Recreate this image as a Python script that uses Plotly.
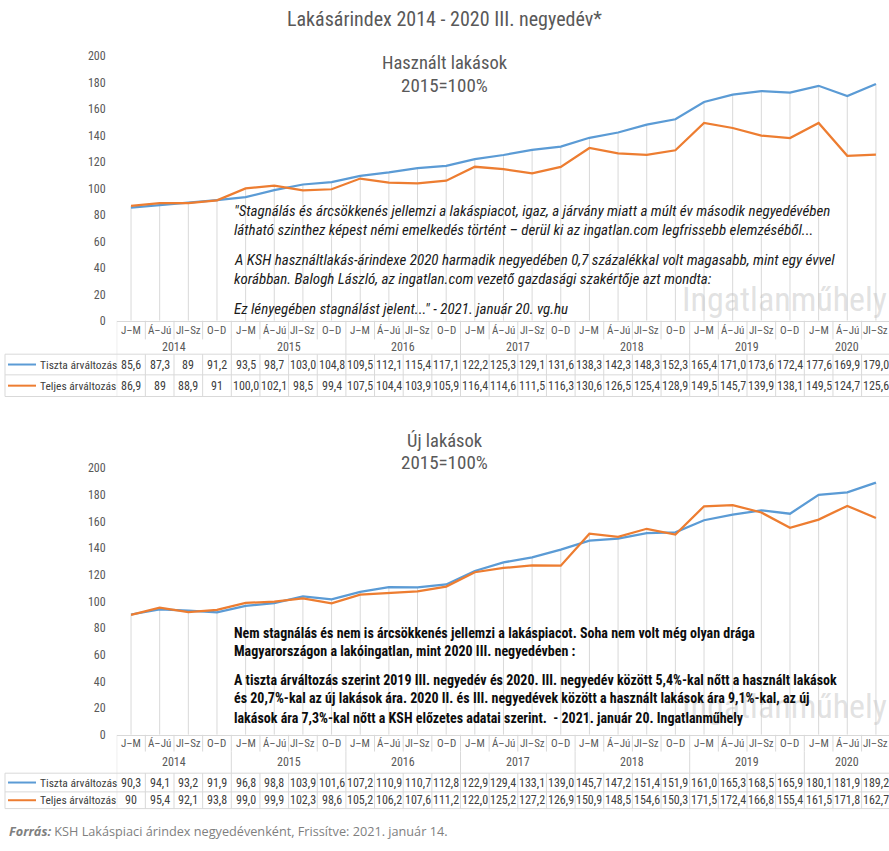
import plotly.graph_objects as go

W, H = 889, 851

# ---------------- data ----------------
quarters = ["J–M", "Á–Jú", "Jl–Sz", "O–D"] * 6 + ["J–M", "Á–Jú", "Jl–Sz"]
year_labels = ["2014", "2015", "2016", "2017", "2018", "2019", "2020"]
quarters_per_year = [4, 4, 4, 4, 4, 4, 3]

used_tiszta = [85.6, 87.3, 89, 91.2, 93.5, 98.7, 103.0, 104.8, 109.5, 112.1, 115.4, 117.1,
               122.2, 125.3, 129.1, 131.6, 138.3, 142.3, 148.3, 152.3, 165.4, 171.0, 173.6,
               172.4, 177.6, 169.9, 179.0]
used_teljes = [86.9, 89, 88.9, 91, 100.0, 102.1, 98.5, 99.4, 107.5, 104.4, 103.9, 105.9,
               116.4, 114.6, 111.5, 116.3, 130.6, 126.5, 125.4, 128.9, 149.5, 145.7, 139.9,
               138.1, 149.5, 124.7, 125.6]
new_tiszta = [90.3, 94.1, 93.2, 91.9, 96.8, 98.8, 103.9, 101.6, 107.2, 110.9, 110.7, 112.8,
              122.9, 129.4, 133.1, 139.0, 145.7, 147.2, 151.4, 151.9, 161.0, 165.3, 168.5,
              165.9, 180.1, 181.9, 189.2]
new_teljes = [90, 95.4, 92.1, 93.8, 99.0, 99.9, 102.3, 98.6, 105.2, 106.2, 107.6, 111.2,
              122.0, 125.2, 127.2, 126.9, 150.9, 148.5, 154.6, 150.3, 171.5, 172.4, 166.8,
              155.4, 161.5, 171.8, 162.7]
series_names = ["Tiszta árváltozás", "Teljes árváltozás"]
y_ticks = list(range(0, 201, 20))

# ---------------- style ----------------
BLUE = "#5B9BD5"
ORANGE = "#ED7D31"
GRID = "#D9D9D9"
GRAY = "#595959"
FONT = "Liberation Sans Narrow, Arial Narrow, Roboto Condensed, Lato, sans-serif"


def px(x):
    return x / W


def py(y):
    return 1 - y / H


n = len(quarters)
year_of = []
for yl, cnt in zip(year_labels, quarters_per_year):
    year_of += [yl] * cnt

X_LEFT = 116.7      # pixel of left edge of category area
STEP = 28.65        # pixel width of one category
x_range_end = (W - X_LEFT) / STEP - 0.5

fig = go.Figure()
shapes = []
annotations = []

charts = [
    dict(xa="x", ya="y", top=50, zero=319, q=(319, 338), yr=(338, 353),
         rows=[(353, 374), (374, 396)], data=[used_tiszta, used_teljes],
         title=("Használt lakások", 57, "2015=100%", 80)),
    dict(xa="x2", ya="y2", top=469, zero=740, q=(740, 757), yr=(757, 779),
         rows=[(779, 798), (798, 815)], data=[new_tiszta, new_teljes],
         title=("Új lakások", 441, "2015=100%", 463)),
]

for c in charts:
    xs = list(range(n))
    # drop lines from the higher series to the axis
    dx, dy = [], []
    for i in xs:
        dx += [i, i, None]
        dy += [0, max(c["data"][0][i], c["data"][1][i]), None]
    fig.add_trace(go.Scatter(x=dx, y=dy, mode="lines", xaxis=c["xa"], yaxis=c["ya"],
                             line=dict(color=GRID, width=1), hoverinfo="skip", showlegend=False))
    for vals, col, name in zip(c["data"], [BLUE, ORANGE], series_names):
        fig.add_trace(go.Scatter(x=xs, y=vals, mode="lines", name=name, xaxis=c["xa"], yaxis=c["ya"],
                                 line=dict(color=col, width=2.25), showlegend=False))

    xr = c["xa"]
    # category axis labels: quarters
    for i, q in enumerate(quarters):
        annotations.append(dict(x=i, y=py((c["q"][0] + c["q"][1]) / 2), xref=xr, yref="paper",
                                text=q, showarrow=False, yanchor="middle",
                                font=dict(family=FONT, size=11, color=GRAY)))
    # quarter separators
    for i in range(n + 1):
        shapes.append(dict(type="line", xref=xr, yref="paper", x0=i - 0.5, x1=i - 0.5,
                           y0=py(c["q"][0]), y1=py(c["q"][1]), line=dict(color=GRID, width=1)))
    # years
    start = 0
    for yl, cnt in zip(year_labels, quarters_per_year):
        annotations.append(dict(x=start + (cnt - 1) / 2, y=py((c["yr"][0] + c["yr"][1]) / 2),
                                xref=xr, yref="paper", text=yl, showarrow=False, yanchor="middle",
                                font=dict(family=FONT, size=12, color=GRAY)))
        shapes.append(dict(type="line", xref=xr, yref="paper", x0=start - 0.5, x1=start - 0.5,
                           y0=py(c["yr"][0]), y1=py(c["yr"][1]), line=dict(color=GRID, width=1)))
        start += cnt
    shapes.append(dict(type="line", xref=xr, yref="paper", x0=start - 0.5, x1=start - 0.5,
                       y0=py(c["yr"][0]), y1=py(c["yr"][1]), line=dict(color=GRID, width=1)))

    # data table
    t_top, t_bot = c["rows"][0][0], c["rows"][1][1]
    for yy in [t_top, c["rows"][0][1], t_bot]:
        shapes.append(dict(type="line", xref="paper", yref="paper", x0=px(5), x1=px(X_LEFT + n * STEP),
                           y0=py(yy), y1=py(yy), line=dict(color=GRID, width=1)))
    shapes.append(dict(type="line", xref="paper", yref="paper", x0=px(5), x1=px(5),
                       y0=py(t_top), y1=py(t_bot), line=dict(color=GRID, width=1)))
    for i in range(n + 1):
        shapes.append(dict(type="line", xref=xr, yref="paper", x0=i - 0.5, x1=i - 0.5,
                           y0=py(t_top), y1=py(t_bot), line=dict(color=GRID, width=1)))
    for (r0, r1), vals, col, name in zip(c["rows"], c["data"], [BLUE, ORANGE], series_names):
        ym = py((r0 + r1) / 2)
        shapes.append(dict(type="line", xref="paper", yref="paper", x0=px(8), x1=px(36),
                           y0=ym, y1=ym, line=dict(color=col, width=2)))
        annotations.append(dict(x=px(38), y=ym, xref="paper", yref="paper", text=name,
                                xanchor="left", yanchor="middle", showarrow=False,
                                font=dict(family=FONT, size=11.5, color="#404040")))
        for i, v in enumerate(vals):
            s = (f"{v:g}" if year_of[i] == "2014" else f"{v:.1f}").replace(".", ",")
            annotations.append(dict(x=i, y=ym, xref=xr, yref="paper", text=s, showarrow=False,
                                    yanchor="middle",
                                    font=dict(family=FONT, size=12, color="#404040")))

    # chart titles
    t1, y1, t2, y2 = c["title"]
    annotations.append(dict(x=0.5, y=py(y1), xref="paper", yref="paper", text=t1, showarrow=False,
                            yanchor="middle", font=dict(family=FONT, size=18.5, color=GRAY)))
    annotations.append(dict(x=0.5, y=py(y2), xref="paper", yref="paper", text=t2, showarrow=False,
                            yanchor="middle", font=dict(family=FONT, size=19, color=GRAY)))

# watermarks
for wy in [297, 711]:
    annotations.append(dict(x=px(889), y=py(wy), xref="paper", yref="paper", text="Ingatlanműhely",
                            xanchor="right", yanchor="middle", showarrow=False,
                            font=dict(family=FONT, size=34, color="rgba(190,190,190,0.45)")))

# main title
annotations.append(dict(x=0.5, y=py(12), xref="paper", yref="paper",
                        text="Lakásárindex 2014 - 2020 III. negyedév*", showarrow=False,
                        yanchor="middle", font=dict(family=FONT, size=20, color=GRAY)))

# quote text (top)
top_lines = [
    ("\"Stagnálás és árcsökkenés jellemzi a lakáspiacot, igaz, a járvány miatt a múlt év második negyedévében", 207),
    ("látható szinthez képest némi emelkedés történt – derül ki az ingatlan.com legfrissebb elemzéséből...", 227),
    ("A KSH használtlakás-árindexe 2020 harmadik negyedében 0,7 százalékkal volt magasabb, mint egy évvel", 257),
    ("korábban. Balogh László, az ingatlan.com vezető gazdasági szakértője azt mondta:", 277),
    ("Ez lényegében stagnálást jelent...\" - 2021. január 20. vg.hu", 307),
]
for t, yy in top_lines:
    annotations.append(dict(x=px(232), y=py(yy), xref="paper", yref="paper", text="<i>" + t + "</i>",
                            xanchor="left", yanchor="middle", showarrow=False,
                            font=dict(family=FONT, size=15, color="#1A1A1A")))

bottom_lines = [
    ("Nem stagnálás és nem is árcsökkenés jellemzi a lakáspiacot. Soha nem volt még olyan drága", 636),
    ("Magyarországon a lakóingatlan, mint 2020 III. negyedévben :", 655),
    ("A tiszta árváltozás szerint 2019 III. negyedév és 2020. III. negyedév között 5,4%-kal nőtt a használt lakások", 684),
    ("és 20,7%-kal az új lakások ára. 2020 II. és III. negyedévek között a használt lakások ára 9,1%-kal, az új", 703),
    ("lakások ára 7,3%-kal nőtt a KSH előzetes adatai szerint.  - 2021. január 20. Ingatlanműhely", 723),
]
for t, yy in bottom_lines:
    annotations.append(dict(x=px(232), y=py(yy), xref="paper", yref="paper", text="<b>" + t + "</b>",
                            xanchor="left", yanchor="middle", showarrow=False,
                            font=dict(family=FONT, size=14, color="#0D0D0D")))

# source
annotations.append(dict(x=px(7), y=py(838), xref="paper", yref="paper",
                        text="<b><i>Forrás:</i></b> KSH Lakáspiaci árindex negyedévenként, Frissítve: 2021. január 14.",
                        xanchor="left", yanchor="middle", showarrow=False,
                        font=dict(family="Open Sans, sans-serif", size=12.7, color="#7F7F7F")))

axis_common = dict(showgrid=False, zeroline=False)
fig.update_layout(
    width=W, height=H, margin=dict(l=0, r=0, t=0, b=0),
    paper_bgcolor="white", plot_bgcolor="white", showlegend=False,
    xaxis=dict(domain=[px(X_LEFT), 1], range=[-0.5, x_range_end], showticklabels=False,
               showline=True, linecolor=GRID, ticks="", anchor="y", **axis_common),
    yaxis=dict(domain=[py(319), py(50)], range=[0, 200], tickvals=y_ticks, showline=False,
               tickfont=dict(family=FONT, size=12, color=GRAY), ticklabelstandoff=10,
               anchor="x", **axis_common),
    xaxis2=dict(domain=[px(X_LEFT), 1], range=[-0.5, x_range_end], showticklabels=False,
                showline=True, linecolor=GRID, ticks="", anchor="y2", **axis_common),
    yaxis2=dict(domain=[py(740), py(469)], range=[0, 200], tickvals=y_ticks, showline=False,
                tickfont=dict(family=FONT, size=12, color=GRAY), ticklabelstandoff=10,
                anchor="x2", **axis_common),
    shapes=shapes, annotations=annotations,
)

fig.write_html("out.html", config={"displayModeBar": False},
               post_script="document.body.style.margin='0';document.body.style.padding='0';")
